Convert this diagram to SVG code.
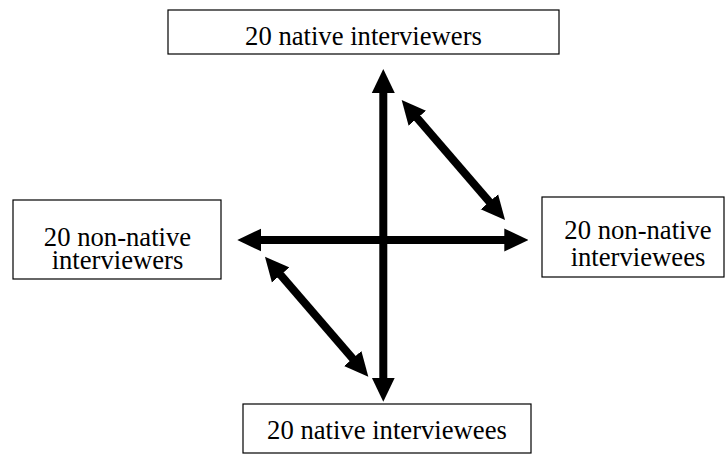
<svg xmlns="http://www.w3.org/2000/svg" width="726" height="454" viewBox="0 0 726 454">
<style>
.box{fill:#fff;stroke:#000;stroke-width:1.2}
.t{font-family:"Liberation Serif","Times New Roman",serif;font-size:26.67px;fill:#000;text-anchor:middle}
.c{stroke:#000;stroke-width:8;fill:none;marker-start:url(#ah);marker-end:url(#ah)}
</style>
<defs>
<marker id="ah" markerUnits="userSpaceOnUse" viewBox="0 0 24 24" markerWidth="24" markerHeight="24" refX="12" refY="12" orient="auto-start-reverse">
<path d="M0,0.5 L24,12 L0,23.5 Z" fill="#000"/>
</marker>
</defs>
<rect width="726" height="454" fill="#fff"/>
<g id="connectors">
<line class="c" x1="383.3" y1="81" x2="383.3" y2="389.7"/>
<line class="c" x1="249.3" y1="240" x2="516.3" y2="240"/>
<line class="c" x1="409.5" y1="109.1" x2="497.2" y2="210.9"/>
<line class="c" x1="272.8" y1="265.8" x2="360.5" y2="367.6"/>
</g>
<g id="native-interviewers">
<rect class="box" x="168" y="10" width="391" height="44"/>
<text class="t" x="363.5" y="45">20 native interviewers</text>
</g>
<g id="non-native-interviewers">
<rect class="box" x="13" y="200" width="208" height="79"/>
<text class="t" x="117.5" y="245.5">20 non-native</text>
<text class="t" x="117.5" y="269">interviewers</text>
</g>
<g id="non-native-interviewees">
<rect class="box" x="542" y="197" width="182" height="80"/>
<text class="t" x="638" y="239">20 non-native</text>
<text class="t" x="638" y="265.5">interviewees</text>
</g>
<g id="native-interviewees">
<rect class="box" x="243" y="404" width="288" height="49"/>
<text class="t" x="387" y="438.5">20 native interviewees</text>
</g>
</svg>
